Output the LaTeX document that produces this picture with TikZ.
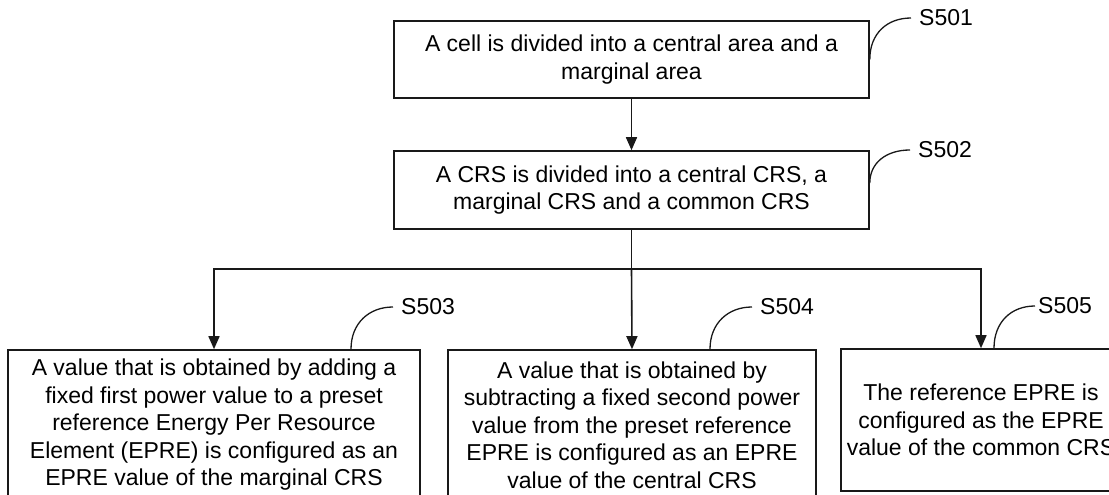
\documentclass[tikz,border=0pt]{standalone}
\usepackage{fontspec}
\setmainfont{Liberation Sans}
\usetikzlibrary{arrows.meta}
\begin{document}
\begin{tikzpicture}[x=1pt,y=-1pt,
  box/.style={draw=black!90, line width=1.6pt, inner sep=0pt, align=center,
    font=\fontsize{23}{27.5}\selectfont},
  lbl/.style={anchor=west, inner xsep=8pt, inner ysep=0pt,
    font=\fontsize{23}{26}\selectfont},
  conn/.style={draw=black!90, line width=1.6pt},
  arr/.style={conn, -{Triangle[length=13pt,width=11pt]}},
  curv/.style={draw=black!90, line width=1.3pt},
]
\useasboundingbox (0,0) rectangle (1109,495);
\clip (0,0) rectangle (1109,495);

\node[box, minimum width=475pt, minimum height=77pt] (b1) at (631.5,59.5)
  {A cell is divided into a central area and a\\ marginal area};
\node[box, minimum width=475pt, minimum height=78pt] (b2) at (631.5,190)
  {A CRS is divided into a central CRS, a\\ marginal CRS and a common CRS};
\node[box, minimum width=412pt, minimum height=150pt] (b3) at (214,425)
  {A value that is obtained by adding a\\ fixed first power value to a preset\\ reference Energy Per Resource\\ Element (EPRE) is configured as an\\ EPRE value of the marginal CRS};
\node[box, minimum width=368pt, minimum height=150pt] (b4) at (632,425)
  {A value that is obtained by\\ subtracting a fixed second power\\ value from the preset reference\\ EPRE is configured as an EPRE\\ value of the central CRS};
\node[box, minimum width=280pt, minimum height=142pt] (b5) at (981,420)
  {The reference EPRE is\\ configured as the EPRE\\ value of the common CRS};

\node[lbl] (l501) at (911,18) {S501};
\node[lbl] (l502) at (910,150) {S502};
\node[lbl] (l503) at (393,307) {S503};
\node[lbl] (l504) at (752,307) {S504};
\node[lbl, inner xsep=3pt] (l505) at (1035,306) {S505};

\draw[arr] (b1.south) -- (b2.north);
\draw[conn] (b2.south) -- (b2.south |- 0,269) coordinate (j);
\draw[arr] (j) -| (b3.north);
\draw[arr] (j) -- (b4.north);
\draw[arr] (j) -| (b5.north);

\draw[curv] (b1.east) .. controls +(0,-26) and +(-24,0) .. (l501.west);
\draw[curv] ([yshift=7pt]b2.east) .. controls +(0,-20) and +(-24,0) .. (l502.west);
\draw[curv] ([xshift=137pt]b3.north) .. controls +(0,-26) and +(-24,0) .. (l503.west);
\draw[curv] ([xshift=78pt]b4.north) .. controls +(0,-26) and +(-24,0) .. (l504.west);
\draw[curv] ([xshift=13pt]b5.north) .. controls +(0,-26) and +(-24,0) .. (l505.west);
\end{tikzpicture}
\end{document}
